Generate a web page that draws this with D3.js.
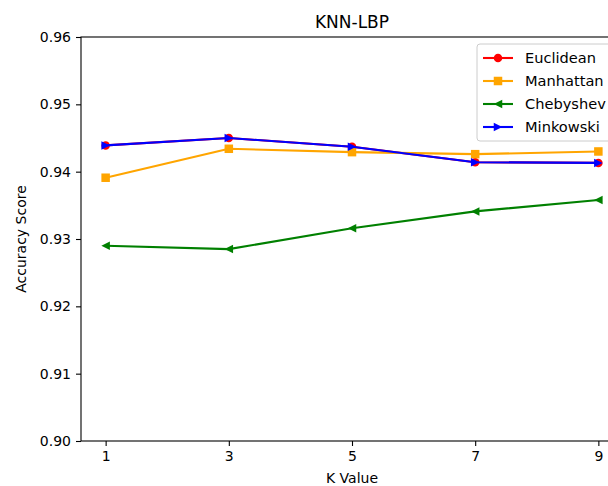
<!DOCTYPE html>
<html>
<head>
<meta charset="utf-8">
<script src="https://cdn.jsdelivr.net/npm/d3@7"></script>
<style>
  body { margin: 0; background: #fff; }
  text { font-family: "DejaVu Sans", sans-serif; fill: #000; }
</style>
</head>
<body>
<div id="chart-container"></div>
<script>
// Data
const kValues = [1, 3, 5, 7, 9];
const euclidean = [0.9439, 0.9450, 0.9437, 0.9414, 0.9413];
const manhattan = [0.9391, 0.9434, 0.9429, 0.9426, 0.9430];
const chebyshev = [0.9290, 0.9285, 0.9316, 0.9341, 0.9358];
const minkowski = [0.9439, 0.9450, 0.9437, 0.9414, 0.9413];
const yTicks = [0.90, 0.91, 0.92, 0.93, 0.94, 0.95, 0.96];
const seriesNames = ["Euclidean", "Manhattan", "Chebyshev", "Minkowski"];

const series = [
  {name: seriesNames[0], values: euclidean, color: "red", marker: "circle"},
  {name: seriesNames[1], values: manhattan, color: "orange", marker: "square"},
  {name: seriesNames[2], values: chebyshev, color: "green", marker: "left"},
  {name: seriesNames[3], values: minkowski, color: "blue", marker: "right"}
];

// Set dimensions and margins (plot runs past the right edge like the original)
const margin = {top: 37, right: -15, bottom: 45, left: 81};
const fullW = 608, fullH = 486;
const width = fullW - margin.left - margin.right;
const height = fullH - margin.top - margin.bottom;

const x = d3.scaleLinear().domain([0.6, 9.4]).range([0, width]);
const y = d3.scaleLinear().domain([0.90, 0.96]).range([height, 0]);

const root = d3.select("#chart-container")
  .append("svg")
    .attr("width", fullW)
    .attr("height", fullH)
    .style("display", "block");

const svg = root.append("g")
  .attr("transform", `translate(${margin.left}, ${margin.top})`);

// Marker shapes (approx matplotlib markersize 6)
const ms = 8.5;
function drawMarker(g, type, color) {
  const h = ms / 2;
  if (type === "circle") {
    g.append("circle").attr("r", h).attr("fill", color);
  } else if (type === "square") {
    g.append("rect").attr("x", -h).attr("y", -h).attr("width", ms).attr("height", ms).attr("fill", color);
  } else if (type === "left") {
    g.append("path").attr("d", `M${-h},0L${h},${-h}L${h},${h}Z`).attr("fill", color);
  } else if (type === "right") {
    g.append("path").attr("d", `M${h},0L${-h},${-h}L${-h},${h}Z`).attr("fill", color);
  }
}

// Lines + markers
const line = d3.line()
  .x((d, i) => x(kValues[i]))
  .y(d => y(d));

series.forEach(s => {
  svg.append("path")
    .datum(s.values)
    .attr("fill", "none")
    .attr("stroke", s.color)
    .attr("stroke-width", 2.1)
    .attr("stroke-linejoin", "round")
    .attr("d", line);
  s.values.forEach((v, i) => {
    const g = svg.append("g").attr("transform", `translate(${x(kValues[i])}, ${y(v)})`);
    drawMarker(g, s.marker, s.color);
  });
});

// Spines
svg.append("rect")
  .attr("x", 0).attr("y", 0)
  .attr("width", width).attr("height", height)
  .attr("fill", "none")
  .attr("stroke", "#000")
  .attr("stroke-width", 1.1);

// x-axis
svg.append("g")
  .attr("transform", `translate(0, ${height})`)
  .style("font-size", "14px")
  .call(d3.axisBottom(x).tickValues(kValues).tickFormat(d3.format("d")).tickSize(5).tickPadding(5))
  .call(g => g.select(".domain").remove())
  .call(g => g.selectAll(".tick line").attr("stroke", "#000").attr("stroke-width", 1.1))
  .call(g => g.selectAll(".tick text").attr("fill", "#000").style("font-family", "DejaVu Sans"));

// y-axis
svg.append("g")
  .style("font-size", "14px")
  .call(d3.axisLeft(y).tickValues(yTicks).tickFormat(d3.format(".2f")).tickSize(5).tickPadding(5))
  .call(g => g.select(".domain").remove())
  .call(g => g.selectAll(".tick line").attr("stroke", "#000").attr("stroke-width", 1.1))
  .call(g => g.selectAll(".tick text").attr("fill", "#000").style("font-family", "DejaVu Sans"));

// Title and axis labels
svg.append("text")
  .attr("x", width / 2)
  .attr("y", -9)
  .attr("text-anchor", "middle")
  .style("font-size", "17px")
  .text("KNN-LBP");

svg.append("text")
  .attr("x", x(5))
  .attr("y", height + 42)
  .attr("text-anchor", "middle")
  .style("font-size", "14px")
  .text("K Value");

svg.append("text")
  .attr("transform", `translate(${21 - margin.left}, ${height / 2}) rotate(-90)`)
  .attr("text-anchor", "middle")
  .attr("dy", "0.35em")
  .style("font-size", "14px")
  .text("Accuracy Score");

// Legend (upper right, inside the axes)
const legend = svg.append("g").attr("transform", `translate(${477 - margin.left}, ${44 - margin.top})`);
legend.append("rect")
  .attr("width", 140).attr("height", 97)
  .attr("rx", 3)
  .attr("fill", "#fff").attr("fill-opacity", 0.8)
  .attr("stroke", "#ccc").attr("stroke-width", 1);

series.forEach((s, i) => {
  const row = legend.append("g").attr("transform", `translate(0, ${14 + i * 23})`);
  row.append("line")
    .attr("x1", 6).attr("x2", 36)
    .attr("stroke", s.color).attr("stroke-width", 2.1);
  drawMarker(row.append("g").attr("transform", "translate(21, 0)"), s.marker, s.color);
  row.append("text")
    .attr("x", 48)
    .attr("dy", "0.35em")
    .style("font-size", "14.6px")
    .text(s.name);
});
</script>
</body>
</html>
